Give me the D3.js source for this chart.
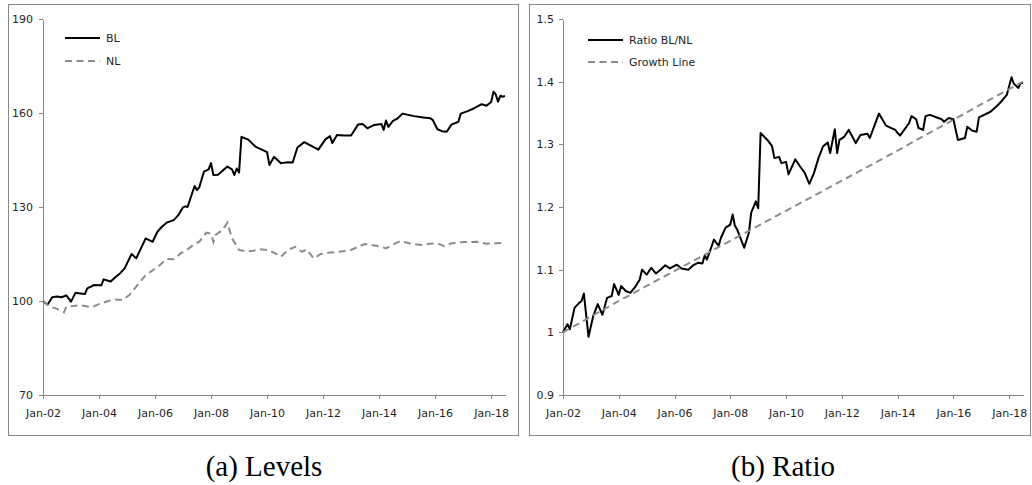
<!DOCTYPE html>
<html>
<head>
<meta charset="utf-8">
<script src="https://cdn.jsdelivr.net/npm/d3@7"></script>
<style>
  body { margin: 0; background: #fff; }
  svg text { font-family: "DejaVu Sans", Verdana, sans-serif; }
  .axis text { font-size: 11px; fill: #1f1f1f; }
  .axis path, .axis line { stroke: #868686; stroke-width: 1; shape-rendering: crispEdges; }
  .frame { fill: none; stroke: #878787; stroke-width: 1; shape-rendering: crispEdges; }
  .solid { fill: none; stroke: #000; stroke-width: 2; stroke-linejoin: round; }
  .dashed { fill: none; stroke: #8c8c8c; stroke-width: 2; stroke-dasharray: 7 4.5; }
  .legend { font-size: 11px; fill: #262626; }
  .caption { font-family: "Liberation Serif", "Times New Roman", serif !important; font-size: 29px; fill: #000; }
</style>
</head>
<body>
<svg id="chart" width="1032" height="485"></svg>
<script>
'use strict';

// monthly index values (Jan-02 = 100)
const blLevels = [
  ['2002-01', 100.0], ['2002-03', 98.8], ['2002-05', 101.2], ['2002-07', 101.4], ['2002-09', 101.2],
  ['2002-11', 101.8], ['2003-01', 99.8], ['2003-03', 102.6], ['2003-05', 102.4], ['2003-07', 102.2],
  ['2003-08', 104.0], ['2003-11', 105.1], ['2004-02', 105.0], ['2004-03', 106.9], ['2004-06', 106.2],
  ['2004-08', 107.6], ['2004-10', 108.8], ['2004-12', 110.4], ['2005-01', 112.0], ['2005-03', 115.0],
  ['2005-05', 113.6], ['2005-07', 116.8], ['2005-09', 120.0], ['2005-12', 118.9], ['2006-02', 122.1],
  ['2006-04', 123.7], ['2006-06', 125.0], ['2006-09', 125.8], ['2006-11', 127.4], ['2007-01', 129.9],
  ['2007-02', 130.2], ['2007-03', 130.0], ['2007-06', 136.7], ['2007-07', 135.4], ['2007-08', 136.3],
  ['2007-10', 141.3], ['2007-12', 142.0], ['2008-01', 144.0], ['2008-02', 140.2], ['2008-04', 140.3],
  ['2008-08', 142.9], ['2008-10', 142.0], ['2008-11', 140.2], ['2008-12', 142.3], ['2009-01', 141.0],
  ['2009-02', 152.4], ['2009-05', 151.5], ['2009-08', 149.3], ['2009-11', 148.2], ['2010-01', 147.5],
  ['2010-02', 143.4], ['2010-04', 146.0], ['2010-07', 144.0], ['2010-10', 144.3], ['2010-12', 144.2],
  ['2011-02', 149.0], ['2011-05', 150.7], ['2011-08', 149.5], ['2011-11', 148.3], ['2012-02', 151.6],
  ['2012-04', 152.6], ['2012-05', 150.4], ['2012-07', 153.0], ['2012-10', 152.8], ['2013-01', 152.8],
  ['2013-04', 156.3], ['2013-06', 156.5], ['2013-08', 155.1], ['2013-11', 156.2], ['2014-02', 156.5],
  ['2014-03', 154.6], ['2014-04', 157.6], ['2014-05', 155.6], ['2014-07', 157.5], ['2014-09', 158.3],
  ['2014-11', 159.8], ['2015-04', 159.0], ['2015-08', 158.6], ['2015-11', 158.3], ['2015-12', 157.8],
  ['2016-02', 154.8], ['2016-04', 154.2], ['2016-06', 154.0], ['2016-08', 156.3], ['2016-11', 157.2],
  ['2016-12', 159.8], ['2017-03', 160.6], ['2017-06', 161.6], ['2017-09', 162.8], ['2017-11', 162.3],
  ['2018-01', 163.5], ['2018-02', 166.8], ['2018-03', 166.0], ['2018-04', 163.6], ['2018-05', 165.5],
  ['2018-06', 165.2], ['2018-07', 165.4]
];

const nlLevels = [
  ['2002-01', 100.0], ['2002-04', 98.2], ['2002-07', 97.5], ['2002-10', 96.4], ['2002-11', 98.2],
  ['2003-02', 98.4], ['2003-05', 98.7], ['2003-10', 98.0], ['2004-01', 99.0], ['2004-05', 100.0],
  ['2004-08', 100.5], ['2004-11', 100.3], ['2005-02', 101.9], ['2005-05', 104.6], ['2005-09', 108.3],
  ['2006-02', 110.8], ['2006-06', 113.4], ['2006-09', 113.3], ['2006-12', 115.2], ['2007-03', 116.5],
  ['2007-06', 118.2], ['2007-08', 118.9], ['2007-11', 121.8], ['2008-01', 121.5], ['2008-02', 118.9],
  ['2008-03', 121.1], ['2008-06', 122.7], ['2008-08', 125.0], ['2008-10', 120.0], ['2009-01', 116.3],
  ['2009-04', 115.8], ['2009-07', 116.0], ['2009-10', 116.5], ['2010-01', 116.3], ['2010-04', 115.4],
  ['2010-07', 114.1], ['2010-10', 116.3], ['2011-01', 117.3], ['2011-04', 115.7], ['2011-06', 116.5],
  ['2011-09', 113.6], ['2011-12', 115.0], ['2012-04', 115.5], ['2012-08', 115.7], ['2013-01', 116.3],
  ['2013-04', 117.3], ['2013-07', 118.2], ['2013-11', 117.7], ['2014-02', 117.3], ['2014-04', 116.8],
  ['2014-07', 118.0], ['2014-10', 119.1], ['2015-02', 118.4], ['2015-07', 117.9], ['2015-11', 118.3],
  ['2016-02', 118.4], ['2016-05', 117.5], ['2016-08', 118.4], ['2017-01', 118.8], ['2017-07', 118.9],
  ['2017-11', 118.3], ['2018-03', 118.4], ['2018-07', 118.6]
];

const ratioBLNL = [
  ['2002-01', 1.000], ['2002-03', 1.013], ['2002-04', 1.005], ['2002-06', 1.039], ['2002-08', 1.047],
  ['2002-09', 1.050], ['2002-10', 1.062], ['2002-12', 0.993], ['2003-02', 1.026], ['2003-04', 1.045],
  ['2003-06', 1.028], ['2003-08', 1.055], ['2003-10', 1.058], ['2003-11', 1.077], ['2004-01', 1.060],
  ['2004-02', 1.074], ['2004-04', 1.066], ['2004-06', 1.063], ['2004-08', 1.072], ['2004-10', 1.084],
  ['2004-11', 1.100], ['2005-01', 1.092], ['2005-03', 1.103], ['2005-05', 1.094], ['2005-07', 1.100],
  ['2005-09', 1.107], ['2005-11', 1.102], ['2006-02', 1.108], ['2006-04', 1.102], ['2006-07', 1.100],
  ['2006-09', 1.107], ['2006-11', 1.111], ['2007-01', 1.110], ['2007-02', 1.123], ['2007-03', 1.116],
  ['2007-05', 1.137], ['2007-06', 1.148], ['2007-08', 1.138], ['2007-09', 1.151], ['2007-11', 1.167],
  ['2008-01', 1.172], ['2008-02', 1.188], ['2008-03', 1.170], ['2008-04', 1.164], ['2008-07', 1.135],
  ['2008-09', 1.159], ['2008-10', 1.191], ['2008-12', 1.209], ['2009-01', 1.198], ['2009-02', 1.318],
  ['2009-05', 1.307], ['2009-07', 1.297], ['2009-08', 1.278], ['2009-10', 1.280], ['2009-11', 1.270],
  ['2010-01', 1.272], ['2010-02', 1.252], ['2010-05', 1.276], ['2010-07', 1.265], ['2010-09', 1.255],
  ['2010-11', 1.237], ['2011-01', 1.254], ['2011-03', 1.278], ['2011-05', 1.297], ['2011-07', 1.303],
  ['2011-08', 1.286], ['2011-10', 1.324], ['2011-11', 1.286], ['2011-12', 1.307], ['2012-02', 1.312],
  ['2012-04', 1.323], ['2012-07', 1.302], ['2012-09', 1.315], ['2012-12', 1.317], ['2013-01', 1.310],
  ['2013-05', 1.349], ['2013-08', 1.330], ['2013-12', 1.323], ['2014-01', 1.318], ['2014-02', 1.314],
  ['2014-06', 1.334], ['2014-07', 1.345], ['2014-09', 1.340], ['2014-10', 1.326], ['2014-12', 1.323],
  ['2015-01', 1.345], ['2015-03', 1.347], ['2015-08', 1.340], ['2015-09', 1.336], ['2015-11', 1.342],
  ['2016-01', 1.340], ['2016-03', 1.307], ['2016-06', 1.310], ['2016-07', 1.328], ['2016-09', 1.322],
  ['2016-11', 1.320], ['2016-12', 1.343], ['2017-05', 1.352], ['2017-08', 1.362], ['2017-10', 1.370],
  ['2017-12', 1.379], ['2018-02', 1.407], ['2018-03', 1.397], ['2018-05', 1.390], ['2018-06', 1.398],
  ['2018-07', 1.398]
];

const growthLine = [
  ['2002-01', 1.000], ['2003-01', 1.025], ['2004-01', 1.050], ['2005-01', 1.074], ['2006-01', 1.098],
  ['2007-01', 1.122], ['2008-01', 1.146], ['2009-01', 1.170], ['2010-01', 1.194], ['2011-01', 1.218],
  ['2012-01', 1.242], ['2013-01', 1.266], ['2014-01', 1.290], ['2015-01', 1.315], ['2016-01', 1.339],
  ['2017-01', 1.364], ['2018-01', 1.388], ['2018-07', 1.400]
];

const levelTicks = [70, 100, 130, 160, 190];
const ratioTicks = [0.9, 1, 1.1, 1.2, 1.3, 1.4, 1.5];
const dateTicks = ['2002-01', '2004-01', '2006-01', '2008-01', '2010-01',
                   '2012-01', '2014-01', '2016-01', '2018-01'];
const dateRange = ['2002-01', '2018-07'];
const captions = ['(a) Levels', '(b) Ratio'];

const parseMonth = d3.timeParse('%Y-%m');
const svg = d3.select('#chart');

// one framed Excel-style panel with its own axes, lines and legend
const drawPanel = function (cfg) {
  const g = svg.append('g');
  g.append('rect')
   .attr('class', 'frame')
   .attr('x', cfg.frame[0] + 0.5)
   .attr('y', cfg.frame[1] + 0.5)
   .attr('width', cfg.frame[2])
   .attr('height', cfg.frame[3]);

  const x = d3.scaleTime()
    .domain(dateRange.map(parseMonth))
    .range([cfg.left, cfg.right]);
  const y = d3.scaleLinear()
    .domain(d3.extent(cfg.ticks))
    .range([cfg.bottom, cfg.top]);

  g.append('g')
   .attr('class', 'axis')
   .attr('transform', `translate(0,${cfg.bottom})`)
   .call(d3.axisBottom(x)
     .tickValues(dateTicks.map(parseMonth))
     .tickFormat(d3.timeFormat('%b-%y'))
     .tickSize(4).tickSizeOuter(0).tickPadding(10));

  g.append('g')
   .attr('class', 'axis')
   .attr('transform', `translate(${cfg.left},0)`)
   .call(d3.axisLeft(y)
     .tickValues(cfg.ticks)
     .tickFormat((d) => String(d))
     .tickSize(4).tickSizeOuter(0).tickPadding(cfg.pad));

  const line = d3.line()
    .x((d) => x(parseMonth(d[0])))
    .y((d) => y(d[1]));

  cfg.series.forEach((s) => {
    g.append('path')
     .datum(s.data)
     .attr('class', s.cls)
     .attr('d', line);
  });

  // legend in the top left corner
  cfg.series.forEach((s, i) => {
    const ly = cfg.legendY[i];
    g.append('line')
     .attr('class', s.cls)
     .attr('x1', cfg.legendX).attr('x2', cfg.legendX + 35)
     .attr('y1', ly).attr('y2', ly);
    g.append('text')
     .attr('class', 'legend')
     .attr('x', cfg.legendX + 41)
     .attr('y', ly)
     .attr('dy', '0.35em')
     .text(s.name);
  });

  svg.append('text')
     .attr('class', 'caption')
     .attr('x', cfg.captionX)
     .attr('y', 476)
     .attr('text-anchor', 'middle')
     .text(cfg.caption);
};

drawPanel({
  frame: [8, 4, 510, 431],
  left: 43, right: 505, top: 19, bottom: 395, pad: 6,
  ticks: levelTicks,
  series: [
    { name: 'BL', data: blLevels, cls: 'solid' },
    { name: 'NL', data: nlLevels, cls: 'dashed' },
  ],
  legendX: 65, legendY: [38, 61],
  caption: captions[0], captionX: 264,
});

drawPanel({
  frame: [529, 4, 501, 431],
  left: 563, right: 1023, top: 19, bottom: 395, pad: 5,
  ticks: ratioTicks,
  series: [
    { name: 'Ratio BL/NL', data: ratioBLNL, cls: 'solid' },
    { name: 'Growth Line', data: growthLine, cls: 'dashed' },
  ],
  legendX: 588, legendY: [40, 62],
  caption: captions[1], captionX: 783,
});
</script>
</body>
</html>
